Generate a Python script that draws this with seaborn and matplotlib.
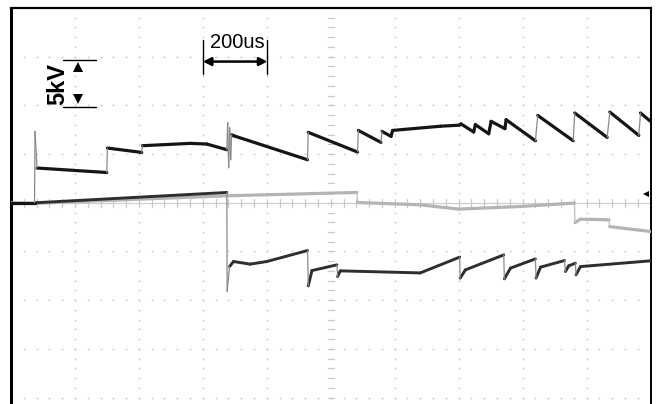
import numpy as np
import pandas as pd
import matplotlib
matplotlib.use("Agg")
import matplotlib.pyplot as plt
import seaborn as sns

# ---- data (time in us, voltage in kV) ----
ch1_t = [0, 73.6, 75.1, 81.4, 299.5, 301.4, 409.1, 411.0, 560.3, 612.5, 675.1,
         677.6, 680.8, 683.9, 687.0, 690.2, 695.8, 927.4, 929.6, 1083.9, 1086.1,
         1157.2, 1160.3, 1188.5, 1193.5, 1342.8, 1402.2, 1407.6, 1447.0, 1452.3,
         1494.0, 1501.5, 1544.7, 1548.4, 1640.1, 1647.3, 1758.1, 1763.1, 1864.5,
         1872.7, 1963.4, 1968.8, 2000]
ch1_v = [0, 0, 7.33, 3.57, 3.11, 5.62, 5.17, 5.86, 6.10, 6.03, 5.45,
         8.25, 3.60, 7.71, 4.42, 6.99, 6.89, 4.42, 7.23, 5.21, 7.43,
         6.20, 7.33, 6.82, 7.43, 7.86, 7.97, 8.09, 7.27, 8.02,
         7.09, 8.36, 7.61, 8.53, 6.37, 8.97, 6.37, 9.22, 6.71,
         9.32, 6.92, 9.22, 8.36]

ch2_t = [0, 75.1, 676, 677, 1082, 1084, 1280, 1400, 1593, 1762, 1764, 1781,
         1870, 1872, 2000]
ch2_v = [0, -0.05, 0.72, 0.72, 1.06, 0.03, -0.21, -0.65, -0.38, -0.03, -2.03,
         -1.68, -1.75, -2.44, -2.95]

ch3_t = [0, 75, 675, 676, 683.4, 695.8, 748, 800, 927.4, 929.6, 941.2, 1019.4,
         1021.3, 1029.8, 1280, 1403.2, 1404.7, 1421, 1541, 1543, 1562, 1640,
         1642, 1656, 1731, 1734, 1744, 1765, 1767, 1781, 2000]
ch3_v = [0, 0, 1.06, -9.12, -6.55, -6.03, -6.30, -6.03, -4.90, -8.53, -6.96,
         -6.37, -7.58, -6.99, -7.20, -5.58, -7.74, -6.89, -5.35, -7.81, -6.71,
         -5.76, -7.74, -6.61, -5.93, -7.06, -6.48, -6.20, -7.40, -6.55, -5.96]

time_label = "200us"
volt_label = "5kV"

sns.set_theme(style="white")
plt.rcParams['font.family'] = ['Liberation Sans', 'DejaVu Sans']

fig = plt.figure(figsize=(6.57, 4.04), dpi=100)
ax = fig.add_axes([11 / 657, 0, 639.5 / 657, 396 / 404])
ax.set_xlim(0, 2000)
ax.set_ylim(-20.66, 20)
ax.set_facecolor("white")
ax.set_xticks([]); ax.set_yticks([])
for s in ["left", "top", "right"]:
    ax.spines[s].set_color("black")
ax.spines["bottom"].set_visible(False)
ax.spines["left"].set_linewidth(2.2)
ax.spines["top"].set_linewidth(1.6)
ax.spines["right"].set_linewidth(1.4)

# ---- graticule ----
dotc = "#c4c4c4"
for v in (-20, -15, -10, -5, 5, 10, 15):
    xs = np.arange(0, 2001, 40)
    ax.plot(xs, np.full_like(xs, v, dtype=float), ls="none", marker="s",
            ms=1.1, color=dotc, mew=0, zorder=1)
for t in range(200, 2000, 200):
    if t == 1000:
        continue
    ys = np.arange(-20, 20.01, 1.0)
    ax.plot(np.full_like(ys, t), ys, ls="none", marker="s", ms=1.1,
            color=dotc, mew=0, zorder=1)
ax.axhline(0, color="#cfcfcf", lw=0.9, zorder=1)
for t in np.arange(40, 2000, 40):
    ax.plot([t, t], [-0.4, 0.4], color="#c8c8c8", lw=0.9, zorder=1)
for v in np.arange(-20, 20, 1.0):
    ax.plot([990, 1010], [v, v], color="#c8c8c8", lw=0.9, zorder=1)


# ---- traces: split into segments so fast edges are drawn thin and faint ----
def segments(ts, vs):
    rows = []
    for i in range(len(ts) - 1):
        dt = ts[i + 1] - ts[i]
        fast = abs(vs[i + 1] - vs[i]) / max(dt, 1e-6) > 0.25
        for j in (i, i + 1):
            rows.append({"seg": i, "t": ts[j], "v": vs[j],
                         "edge": "fast" if fast else "slow"})
    return pd.DataFrame(rows)


def draw(ts, vs, slow_col, fast_col, lw, z):
    df = segments(ts, vs)
    sns.lineplot(data=df, x="t", y="v", units="seg", hue="edge",
                 size="edge", palette={"slow": slow_col, "fast": fast_col},
                 sizes={"slow": lw, "fast": 0.9}, estimator=None,
                 sort=False, legend=False, ax=ax, zorder=z)


draw(ch2_t, ch2_v, "#b4b4b4", "#c0c0c0", 2.3, 3)
draw(ch3_t, ch3_v, "#2e2e2e", "#8a8a8a", 2.1, 4)
draw(ch1_t, ch1_v, "#151515", "#8a8a8a", 2.3, 5)
for ln in ax.get_lines():
    ln.set_solid_capstyle("round")
ax.set_xlabel(""); ax.set_ylabel("")

# ---- annotations ----
ax.annotate("", xy=(600, 14.5), xytext=(802, 14.5),
            arrowprops=dict(arrowstyle="<|-|>", color="black", lw=1.8,
                            mutation_scale=12, shrinkA=0, shrinkB=0), zorder=6)
for t in (600, 802):
    ax.plot([t, t], [13.2, 16.75], color="black", lw=1.0, zorder=6)
ax.text(708, 16.5, time_label, ha="center", va="center", fontsize=14.5,
        color="black", zorder=6)

ax.plot([162, 265], [14.7, 14.7], color="black", lw=1.0, zorder=6)
ax.plot([162, 265], [9.87, 9.87], color="black", lw=1.0, zorder=6)
ax.plot([210], [13.9], marker="^", ms=7, color="black", mew=0, zorder=6)
ax.plot([210], [10.7], marker="v", ms=7, color="black", mew=0, zorder=6)
ax.text(146, 12.2, volt_label, rotation=90, ha="center", va="center",
        fontsize=17, fontweight="bold", color="black", zorder=6)

ax.plot([1986], [0.93], marker="<", ms=5, color="black", mew=0, zorder=6,
        clip_on=False)

fig.savefig("out.png", dpi=100, facecolor="white")
